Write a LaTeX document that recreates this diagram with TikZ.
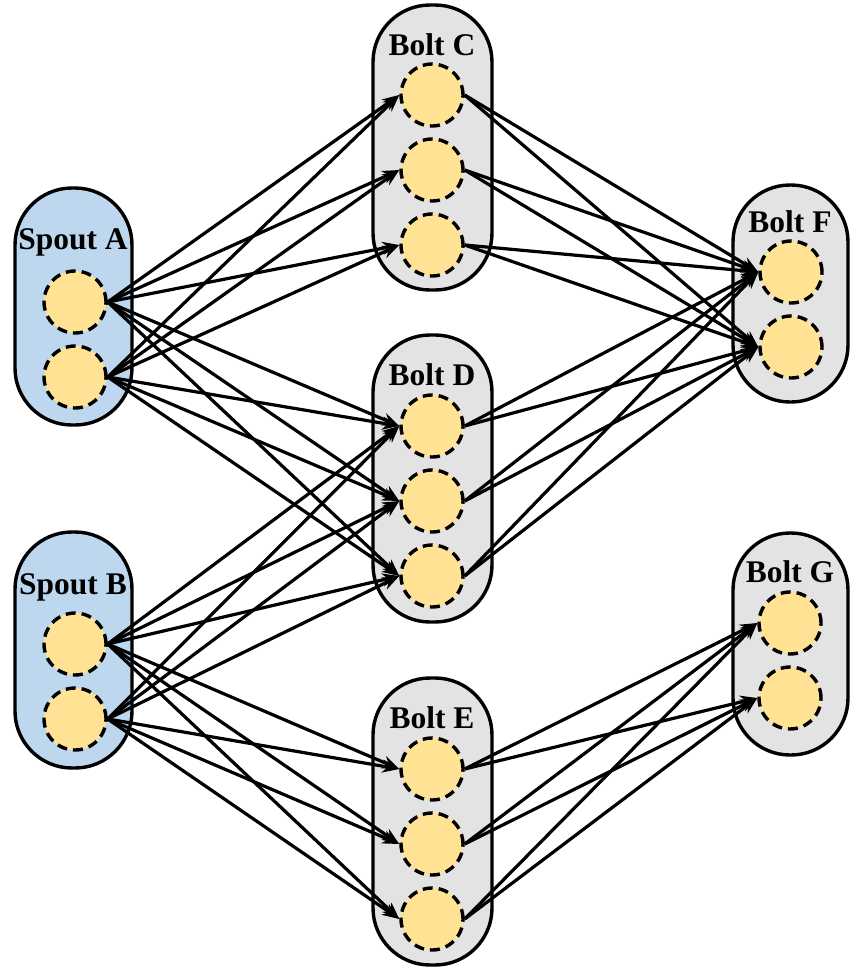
\documentclass[tikz,border=0pt]{standalone}
\usepackage{fontspec}
\setmainfont{Liberation Serif}
\usetikzlibrary{arrows.meta}
\definecolor{spoutfill}{HTML}{BDD7EE}
\definecolor{boltfill}{HTML}{E3E3E3}
\definecolor{taskfill}{HTML}{FFE294}
\begin{document}
\begin{tikzpicture}[x=1pt,y=-1pt,
  container/.style={draw=black, line width=3.4pt, rounded corners=57pt, inner sep=0pt},
  spoutbox/.style={container, fill=spoutfill, minimum width=117pt},
  boltbox/.style={container, fill=boltfill},
  task/.style={circle, draw=black, fill=taskfill, line width=3.4pt, dash pattern=on 10pt off 6pt, minimum size=62pt, inner sep=0pt},
  title/.style={font=\bfseries\fontsize{31.5}{36}\selectfont, inner sep=0pt},
  flow/.style={line width=3.2pt, -{Stealth[length=17pt,width=13pt]}}
]
\useasboundingbox (0,0) rectangle (859,970);
% containers
\node[spoutbox, minimum height=237pt] (SA) at (73.5,306.5) {};
\node[spoutbox, minimum height=236pt] (SB) at (73.5,650) {};
\node[boltbox, minimum width=119pt, minimum height=285pt] (BC) at (432.5,147.5) {};
\node[boltbox, minimum width=119pt, minimum height=287pt] (BD) at (432.5,478.5) {};
\node[boltbox, minimum width=119pt, minimum height=287pt] (BE) at (432.5,821.5) {};
\node[boltbox, minimum width=115pt, minimum height=217pt] (BF) at (790.5,293.5) {};
\node[boltbox, minimum width=115pt, minimum height=222pt] (BG) at (790.5,644) {};
% titles
\node[title] (tA) at (73,242) {Spout A};
\node[title] (tB) at (73,587) {Spout B};
\node[title] (tC) at (432,45) {Bolt C};
\node[title] (tD) at (432,375) {Bolt D};
\node[title] (tE) at (432,718) {Bolt E};
\node[title] (tF) at (790,222) {Bolt F};
\node[title] (tG) at (790,572) {Bolt G};
% tasks
\node[task] (a1) at (75,302) {};
\node[task] (a2) at (75,377) {};
\node[task] (b1) at (75,644) {};
\node[task] (b2) at (75,719) {};
\node[task] (c1) at (432,95) {};
\node[task] (c2) at (432,170) {};
\node[task] (c3) at (432,245) {};
\node[task] (d1) at (432,426) {};
\node[task] (d2) at (432,501) {};
\node[task] (d3) at (432,576) {};
\node[task] (e1) at (432,769) {};
\node[task] (e2) at (432,844) {};
\node[task] (e3) at (432,919) {};
\node[task] (f1) at (791,272) {};
\node[task] (f2) at (791,347) {};
\node[task] (g1) at (790,623) {};
\node[task] (g2) at (790,698) {};
% flows
\foreach \s in {a1,a2}{\foreach \t in {c1,c2,c3,d1,d2,d3}{\draw[flow] (\s.east) -- (\t.west);}}
\foreach \s in {b1,b2}{\foreach \t in {d1,d2,d3,e1,e2,e3}{\draw[flow] (\s.east) -- (\t.west);}}
\foreach \s in {c1,c2,c3,d1,d2,d3}{\foreach \t in {f1,f2}{\draw[flow] (\s.east) -- (\t.west);}}
\foreach \s in {e1,e2,e3}{\foreach \t in {g1,g2}{\draw[flow] (\s.east) -- (\t.west);}}
\end{tikzpicture}
\end{document}
